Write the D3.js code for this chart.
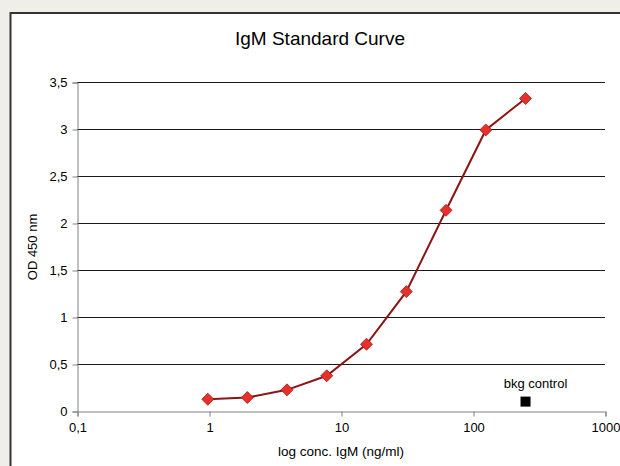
<!DOCTYPE html>
<html>
<head>
<meta charset="utf-8">
<script src="https://cdn.jsdelivr.net/npm/d3@7"></script>
<style>
  body { margin: 0; background: #efeee8; }
  svg { display: block; font-family: "Liberation Sans", Arial, sans-serif; }
</style>
</head>
<body>
<svg width="620" height="466"></svg>
<script>
// standard dilution series (ng/ml) and OD readings
const conc = [0.98, 1.95, 3.9, 7.8, 15.6, 31.25, 62.5, 125, 250];
const od = [0.125, 0.143, 0.225, 0.375, 0.71, 1.27, 2.135, 2.99, 3.325];
const bkgConc = [250];
const bkgOd = [0.1];
const xTicks = [0.1, 1, 10, 100, 1000];
const yTicks = [0, 0.5, 1, 1.5, 2, 2.5, 3, 3.5];

const svg = d3.select("svg");
var width = +svg.attr("width");
var height = +svg.attr("height");

// white chart panel with dark frame, runs off the right/bottom edge
svg.append("rect")
  .attr("x", 10.5).attr("y", 13)
  .attr("width", 640).attr("height", 480)
  .attr("fill", "#fff")
  .attr("stroke", "#333")
  .attr("stroke-width", 2);

const x = d3.scaleLog().domain([0.1, 1000]).range([77, 605]);
const y = d3.scaleLinear().domain([0, 3.5]).range([411, 82]);

const fmt = function (d) { return String(d).replace(".", ","); };

// gridlines
svg.append("g")
  .selectAll("line")
  .data(yTicks.filter(function (d) { return d > 0; }))
  .join("line")
  .attr("x1", 77).attr("x2", 605)
  .attr("y1", function (d) { return Math.round(y(d)) + 0.5; })
  .attr("y2", function (d) { return Math.round(y(d)) + 0.5; })
  .attr("stroke", "#1a1a1a");

// y axis
const yAxis = svg.append("g")
  .attr("transform", "translate(77.5,0.5)")
  .call(d3.axisLeft(y).tickValues(yTicks).tickFormat(fmt).tickSize(5).tickPadding(5));
yAxis.select(".domain").attr("stroke", "#808080");
yAxis.selectAll(".tick line").attr("stroke", "#808080");
yAxis.selectAll("text").attr("font-size", 13).attr("fill", "#000")
  .attr("font-family", "Liberation Sans, Arial, sans-serif");

// x axis
const xAxis = svg.append("g")
  .attr("transform", "translate(0.5,411.5)")
  .call(d3.axisBottom(x).tickValues(xTicks).tickFormat(fmt).tickSize(5).tickPadding(6));
xAxis.select(".domain").attr("stroke", "#808080");
xAxis.selectAll(".tick line").attr("stroke", "#808080");
xAxis.selectAll("text").attr("font-size", 13).attr("fill", "#000")
  .attr("font-family", "Liberation Sans, Arial, sans-serif");

// titles
svg.append("text")
  .attr("x", 320).attr("y", 45)
  .attr("text-anchor", "middle")
  .attr("font-size", 19)
  .text("IgM Standard Curve");

svg.append("text")
  .attr("x", 341).attr("y", 456)
  .attr("text-anchor", "middle")
  .attr("font-size", 13.5)
  .text("log conc. IgM (ng/ml)");

svg.append("text")
  .attr("transform", "translate(37,247) rotate(-90)")
  .attr("text-anchor", "middle")
  .attr("font-size", 13)
  .text("OD 450 nm");

// standard curve line
const pts = conc.map(function (c, i) { return [c, od[i]]; });
svg.append("path")
  .datum(pts)
  .attr("fill", "none")
  .attr("stroke", "#8b1414")
  .attr("stroke-width", 2)
  .attr("d", d3.line()
    .x(function (d) { return x(d[0]); })
    .y(function (d) { return y(d[1]); }));

// diamond markers
svg.append("g")
  .selectAll("path")
  .data(pts)
  .join("path")
  .attr("transform", function (d) { return "translate(" + x(d[0]) + "," + y(d[1]) + ")"; })
  .attr("d", "M0,-6L6,0L0,6L-6,0Z")
  .attr("fill", "#e8302a")
  .attr("stroke", "#9b1c1c")
  .attr("stroke-width", 0.8);

// background control
const bkg = bkgConc.map(function (c, i) { return [c, bkgOd[i]]; });
svg.append("g")
  .selectAll("rect")
  .data(bkg)
  .join("rect")
  .attr("x", function (d) { return x(d[0]) - 5; })
  .attr("y", function (d) { return y(d[1]) - 5; })
  .attr("width", 10).attr("height", 10)
  .attr("fill", "#000");

svg.append("g")
  .selectAll("text")
  .data(bkg)
  .join("text")
  .attr("x", function (d) { return x(d[0]) + 10; })
  .attr("y", function (d) { return y(d[1]) - 14; })
  .attr("text-anchor", "middle")
  .attr("font-size", 13)
  .text("bkg control");
</script>
</body>
</html>
